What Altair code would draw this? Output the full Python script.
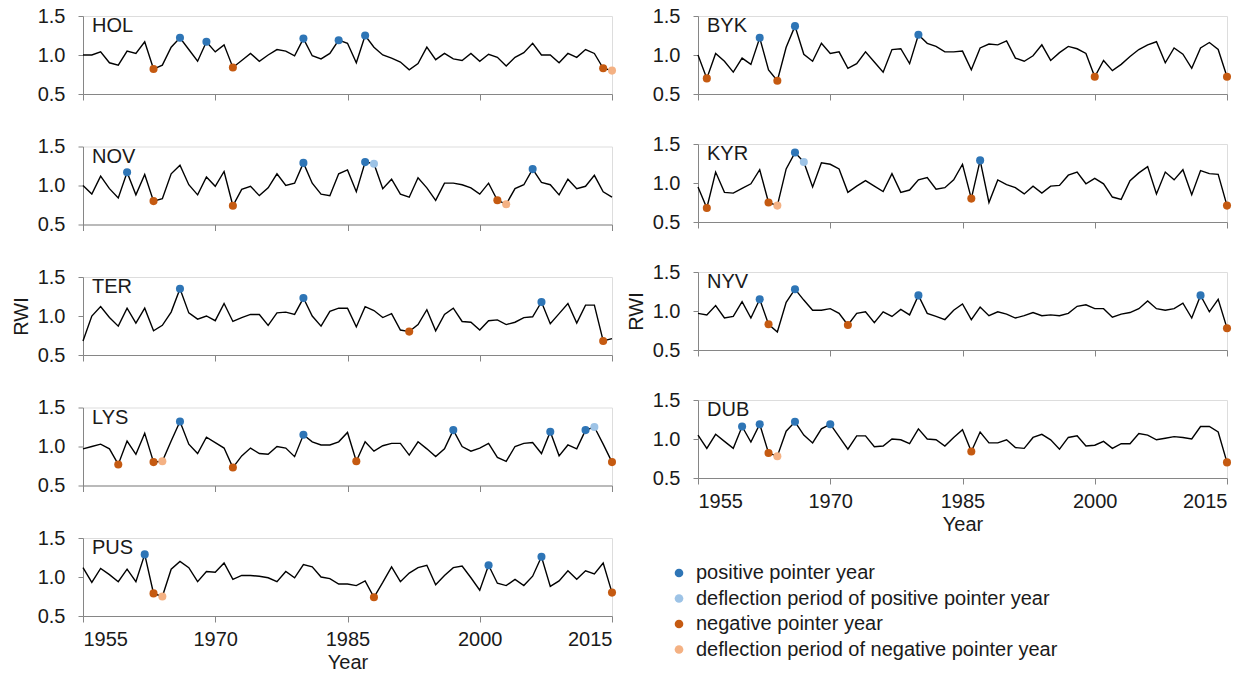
import altair as alt
import pandas as pd

YEARS = list(range(1955, 2016))
XTICKS = [1955, 1970, 1985, 2000, 2015]
YTICKS = [0.5, 1.0, 1.5]

TYPES = ["positive pointer year", "deflection period of positive pointer year",
         "negative pointer year", "deflection period of negative pointer year"]
COLORS = ["#2e75b6", "#9dc3e6", "#c55a11", "#f4b183"]

HOL = [1.00, 1.00, 1.04, 0.90, 0.87, 1.05, 1.02, 1.17, 0.82, 0.87,
       1.10, 1.22, 1.07, 0.92, 1.17, 1.04, 1.13, 0.84, 0.93, 1.02,
       0.92, 1.00, 1.07, 1.05, 0.99, 1.21, 0.99, 0.95, 1.02, 1.19,
       1.15, 0.90, 1.25, 1.10, 1.00, 0.96, 0.91, 0.81, 0.89, 1.10,
       0.94, 1.02, 0.95, 0.93, 1.02, 0.92, 1.01, 0.97, 0.86, 0.97,
       1.03, 1.15, 1.00, 1.00, 0.90, 1.02, 0.97, 1.07, 1.02, 0.83,
       0.80]
NOV = [1.00, 0.89, 1.12, 0.96, 0.84, 1.17, 0.88, 1.14, 0.80, 0.83,
       1.15, 1.26, 1.01, 0.88, 1.11, 0.99, 1.18, 0.74, 0.95, 0.99,
       0.87, 0.97, 1.15, 1.00, 1.03, 1.29, 1.03, 0.89, 0.87, 1.15,
       1.20, 0.92, 1.30, 1.28, 0.96, 1.08, 0.89, 0.85, 1.10, 0.97,
       0.81, 1.03, 1.03, 1.01, 0.97, 0.89, 1.03, 0.81, 0.76, 0.96,
       1.01, 1.21, 1.04, 1.01, 0.88, 1.08, 0.96, 0.99, 1.13, 0.92,
       0.85]
TER = [0.68, 1.00, 1.12, 0.98, 0.87, 1.10, 0.91, 1.10, 0.81, 0.88,
       1.05, 1.35, 1.04, 0.96, 1.00, 0.94, 1.16, 0.93, 0.98, 1.02,
       1.02, 0.88, 1.04, 1.05, 1.02, 1.23, 1.00, 0.87, 1.06, 1.10,
       1.10, 0.86, 1.12, 1.07, 0.98, 1.03, 0.82, 0.80, 0.89, 1.08,
       0.81, 1.02, 1.10, 0.93, 0.92, 0.82, 0.94, 0.95, 0.89, 0.92,
       0.98, 0.99, 1.18, 0.90, 1.03, 1.16, 0.91, 1.14, 1.14, 0.68,
       0.71]
LYS = [0.97, 1.00, 1.03, 0.97, 0.77, 1.07, 0.90, 1.17, 0.80, 0.81,
       1.07, 1.32, 1.03, 0.91, 1.12, 1.05, 0.98, 0.73, 0.88, 0.98,
       0.91, 0.90, 1.00, 0.98, 0.87, 1.15, 1.06, 1.02, 1.02, 1.06,
       1.18, 0.81, 1.06, 0.94, 1.01, 1.04, 1.04, 0.89, 1.06, 0.97,
       0.87, 0.97, 1.21, 1.00, 0.94, 0.98, 1.04, 0.86, 0.81, 1.00,
       1.04, 1.05, 0.91, 1.19, 0.88, 1.02, 0.97, 1.21, 1.25, 1.03,
       0.80]
PUS = [1.12, 0.93, 1.11, 1.03, 0.94, 1.10, 0.94, 1.29, 0.79, 0.75,
       1.10, 1.20, 1.12, 0.94, 1.07, 1.06, 1.18, 0.97, 1.02, 1.02,
       1.01, 0.99, 0.94, 1.07, 0.99, 1.16, 1.13, 1.00, 0.98, 0.91,
       0.91, 0.89, 0.95, 0.74, 0.93, 1.13, 0.94, 1.05, 1.12, 1.15,
       0.90, 1.02, 1.12, 1.14, 0.99, 0.83, 1.15, 0.92, 0.89, 0.97,
       0.89, 1.01, 1.26, 0.88, 0.95, 1.08, 0.97, 1.08, 1.04, 1.18,
       0.80]
BYK = [1.00, 0.70, 1.02, 0.92, 0.78, 0.96, 0.88, 1.22, 0.81, 0.67,
       1.10, 1.37, 1.01, 0.92, 1.15, 1.02, 1.04, 0.83, 0.89, 1.04,
       0.91, 0.78, 1.07, 1.08, 0.89, 1.26, 1.15, 1.11, 1.04, 1.04,
       1.05, 0.81, 1.09, 1.14, 1.13, 1.18, 0.96, 0.92, 0.99, 1.13,
       0.93, 1.03, 1.11, 1.08, 1.02, 0.72, 0.93, 0.80, 0.88, 0.98,
       1.07, 1.13, 1.17, 0.90, 1.09, 1.01, 0.83, 1.09, 1.16, 1.07,
       0.72]
KYR = [0.95, 0.68, 1.14, 0.88, 0.87, 0.93, 0.99, 1.17, 0.75, 0.71,
       1.18, 1.39, 1.27, 0.95, 1.26, 1.24, 1.18, 0.88, 0.96, 1.03,
       0.96, 0.89, 1.12, 0.88, 0.91, 1.04, 1.07, 0.92, 0.94, 1.04,
       1.24, 0.80, 1.29, 0.75, 1.04, 0.98, 0.94, 0.86, 0.96, 0.87,
       0.96, 0.97, 1.10, 1.14, 0.99, 1.06, 0.99, 0.82, 0.79, 1.03,
       1.13, 1.21, 0.86, 1.14, 1.04, 1.17, 0.85, 1.16, 1.12, 1.11,
       0.71]
NYV = [0.97, 0.95, 1.07, 0.91, 0.93, 1.12, 0.91, 1.15, 0.83, 0.73,
       1.11, 1.28, 1.14, 1.01, 1.01, 1.03, 0.97, 0.82, 0.97, 0.99,
       0.85, 0.99, 0.93, 1.02, 0.95, 1.20, 0.97, 0.93, 0.89, 1.01,
       1.09, 0.89, 1.05, 0.94, 0.99, 0.96, 0.91, 0.94, 0.98, 0.94,
       0.95, 0.94, 0.97, 1.06, 1.08, 1.03, 1.03, 0.92, 0.96, 0.98,
       1.03, 1.13, 1.03, 1.01, 1.03, 1.10, 0.91, 1.20, 0.99, 1.15,
       0.78]
DUB = [1.05, 0.88, 1.06, 0.97, 0.88, 1.16, 0.96, 1.19, 0.82, 0.78,
       1.10, 1.22, 1.05, 0.95, 1.13, 1.19, 1.03, 0.87, 1.04, 1.04,
       0.90, 0.91, 1.00, 0.99, 0.94, 1.13, 1.00, 0.99, 0.91, 1.02,
       1.12, 0.84, 1.09, 0.95, 0.95, 0.99, 0.89, 0.88, 1.02, 1.06,
       0.99, 0.87, 1.02, 1.04, 0.91, 0.92, 0.97, 0.88, 0.94, 0.94,
       1.07, 1.05, 0.99, 1.01, 1.03, 1.02, 1.00, 1.16, 1.16, 1.09,
       0.70]

# pointer years: (positive, deflection positive, negative, deflection negative)
HOL_P = ([1966, 1969, 1980, 1984, 1987], [], [1963, 1972, 2014], [2015])
NOV_P = ([1960, 1980, 1987, 2006], [1988], [1963, 1972, 2002], [2003])
TER_P = ([1966, 1980, 2007], [], [1992, 2014], [])
LYS_P = ([1966, 1980, 1997, 2008, 2012], [2013], [1959, 1963, 1972, 1986, 2015], [1964])
PUS_P = ([1962, 2001, 2007], [], [1963, 1988, 2015], [1964])
BYK_P = ([1962, 1966, 1980], [], [1956, 1964, 2000, 2015], [])
KYR_P = ([1966, 1987], [1967], [1956, 1963, 1986, 2015], [1964])
NYV_P = ([1962, 1966, 1980, 2012], [], [1963, 1972, 2015], [])
DUB_P = ([1960, 1962, 1966, 1970], [], [1963, 1986, 2015], [1964])

FONT = "Liberation Sans"
TXT = "#1a1a1a"
AX = "#868686"
W, H = 529, 78

COMMON = dict(labelFont=FONT, labelFontSize=20, labelColor=TXT,
              titleFont=FONT, titleFontSize=20, titleFontWeight="normal",
              titleColor=TXT, domainColor=AX, tickColor=AX, domainWidth=1,
              tickWidth=1, grid=False)

LEGEND = alt.Legend(title=None, orient="none", legendX=586, legendY=547,
                    labelFontSize=20, labelFont=FONT, labelColor=TXT,
                    symbolSize=75, symbolType="circle", rowPadding=5.5,
                    labelOffset=7, padding=0, labelLimit=600)


def panel(name, vals, pts, xlabels=False, ytitle=False):
    df = pd.DataFrame({"Year": YEARS, "RWI": vals})
    rows = []
    for t, ys in zip(TYPES, pts):
        for yr in ys:
            rows.append({"Year": yr, "RWI": vals[yr - 1955], "type": t})
    pdf = pd.DataFrame(rows)
    xax = dict(values=XTICKS, format="d", labels=xlabels, tickSize=6,
               labelPadding=7, titlePadding=3, **COMMON)
    xax["title"] = "Year" if xlabels else None
    yax = dict(values=YTICKS, format=".1f", tickSize=5, labelPadding=13,
               titlePadding=6, **COMMON)
    yax["title"] = "RWI" if ytitle else None
    x = alt.X("Year:Q", scale=alt.Scale(domain=[1955, 2015], nice=False, zero=False),
              axis=alt.Axis(**xax))
    y = alt.Y("RWI:Q", scale=alt.Scale(domain=[0.5, 1.5], nice=False, zero=False),
              axis=alt.Axis(**yax))
    line = alt.Chart(df).mark_line(color="black", strokeWidth=1.4).encode(x=x, y=y)
    dots = alt.Chart(pdf).mark_circle(size=65, opacity=1).encode(
        x=x, y=y,
        color=alt.Color("type:N", scale=alt.Scale(domain=TYPES, range=COLORS),
                        legend=LEGEND))
    lab = alt.Chart(pd.DataFrame({"t": [name]})).mark_text(
        align="left", baseline="middle", fontSize=20, font=FONT, color=TXT
    ).encode(x=alt.value(9), y=alt.value(10), text="t:N")
    return alt.layer(line, dots, lab).properties(width=W, height=H)


left = alt.vconcat(
    panel("HOL", HOL, HOL_P), panel("NOV", NOV, NOV_P),
    panel("TER", TER, TER_P, ytitle=True), panel("LYS", LYS, LYS_P),
    panel("PUS", PUS, PUS_P, xlabels=True),
    spacing=52.5, bounds="flush").resolve_scale(color="shared")
right = alt.vconcat(
    panel("BYK", BYK, BYK_P), panel("KYR", KYR, KYR_P),
    panel("NYV", NYV, NYV_P, ytitle=True), panel("DUB", DUB, DUB_P, xlabels=True),
    spacing=50, bounds="flush").resolve_scale(color="shared")

chart = alt.hconcat(left, right, spacing=615, bounds="flush").resolve_scale(
    color="shared").resolve_legend(color="shared").properties(
    padding={"left": 10, "top": 5, "right": 5, "bottom": 0}
).configure_view(stroke=None).configure(background="white")

chart.save("out.html", embed_options={"renderer": "svg", "actions": False})
